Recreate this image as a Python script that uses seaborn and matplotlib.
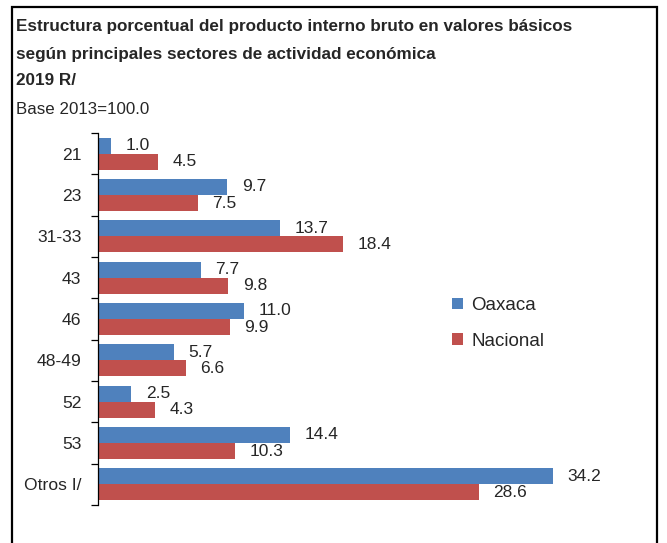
import numpy as np
import pandas as pd
import matplotlib
matplotlib.use("Agg")
import matplotlib.pyplot as plt
from matplotlib.patches import Rectangle
import seaborn as sns

# ── Data ────────────────────────────────────────────────────────────────────
SECTORES = ["21", "23", "31-33", "43", "46", "48-49", "52", "53", "Otros I/"]
OAXACA   = [1.0, 9.7, 13.7, 7.7, 11.0, 5.7, 2.5, 14.4, 34.2]
NACIONAL = [4.5, 7.5, 18.4, 9.8, 9.9, 6.6, 4.3, 10.3, 28.6]
SERIES   = ["Oaxaca", "Nacional"]
COLORES  = {"Oaxaca": "#4F81BD", "Nacional": "#C0504D"}

df = pd.DataFrame({
    "sector": SECTORES * 2,
    "valor":  OAXACA + NACIONAL,
    "serie":  [SERIES[0]] * len(SECTORES) + [SERIES[1]] * len(SECTORES),
})

sns.set_style("white")
plt.rcParams["font.family"] = ["Liberation Sans", "DejaVu Sans"]

fig = plt.figure(figsize=(6.67, 5.43), dpi=100)
ax = fig.add_axes([0.147, 0.070, 0.798, 0.685])

sns.barplot(data=df, y="sector", x="valor", hue="serie", order=SECTORES,
            hue_order=SERIES, palette=COLORES, orient="h", width=0.78,
            edgecolor="none", saturation=1, ax=ax, legend=True)

# value labels to the right of each bar
for cont in ax.containers:
    ax.bar_label(cont, labels=[f"{v:.1f}" for v in cont.datavalues],
                 padding=10.5, fontsize=12.5)

ax.set_xlim(0, 40)
ax.set_ylim(len(SECTORES) - 0.5, -0.5)
ax.set_xlabel("")
ax.set_ylabel("")
ax.xaxis.set_visible(False)
for s in ("top", "right", "bottom"):
    ax.spines[s].set_visible(False)
ax.spines["left"].set_color("black")
ax.spines["left"].set_linewidth(0.9)

# category labels, ticks at category boundaries
ax.tick_params(axis="y", which="major", length=0, labelsize=12.6, pad=12)
ax.set_yticks(np.arange(-0.5, len(SECTORES)), minor=True)
ax.tick_params(axis="y", which="minor", left=True, length=5, width=0.9,
               color="black", direction="out")

leg = ax.legend(loc="upper left", bbox_to_anchor=(0.634, 0.605), frameon=False,
                fontsize=13.5, handlelength=0.55, handleheight=0.55,
                handletextpad=0.45, labelspacing=1.0)

# titles
fig.text(0.024, 0.952, "Estructura porcentual del producto interno bruto en valores básicos",
         fontsize=12.3, fontweight="bold", va="center")
fig.text(0.024, 0.900, "según principales sectores de actividad económica",
         fontsize=12.3, fontweight="bold", va="center")
fig.text(0.024, 0.852, "2019 R/", fontsize=12.3, fontweight="bold", va="center")
fig.text(0.024, 0.799, "Base 2013=100.0", fontsize=12.2, va="center")

# outer frame
fig.patches.append(Rectangle((0.018, -0.02), 0.967, 1.007, transform=fig.transFigure,
                             fill=False, edgecolor="black", linewidth=1.6))

fig.savefig("out.png", dpi=100)
